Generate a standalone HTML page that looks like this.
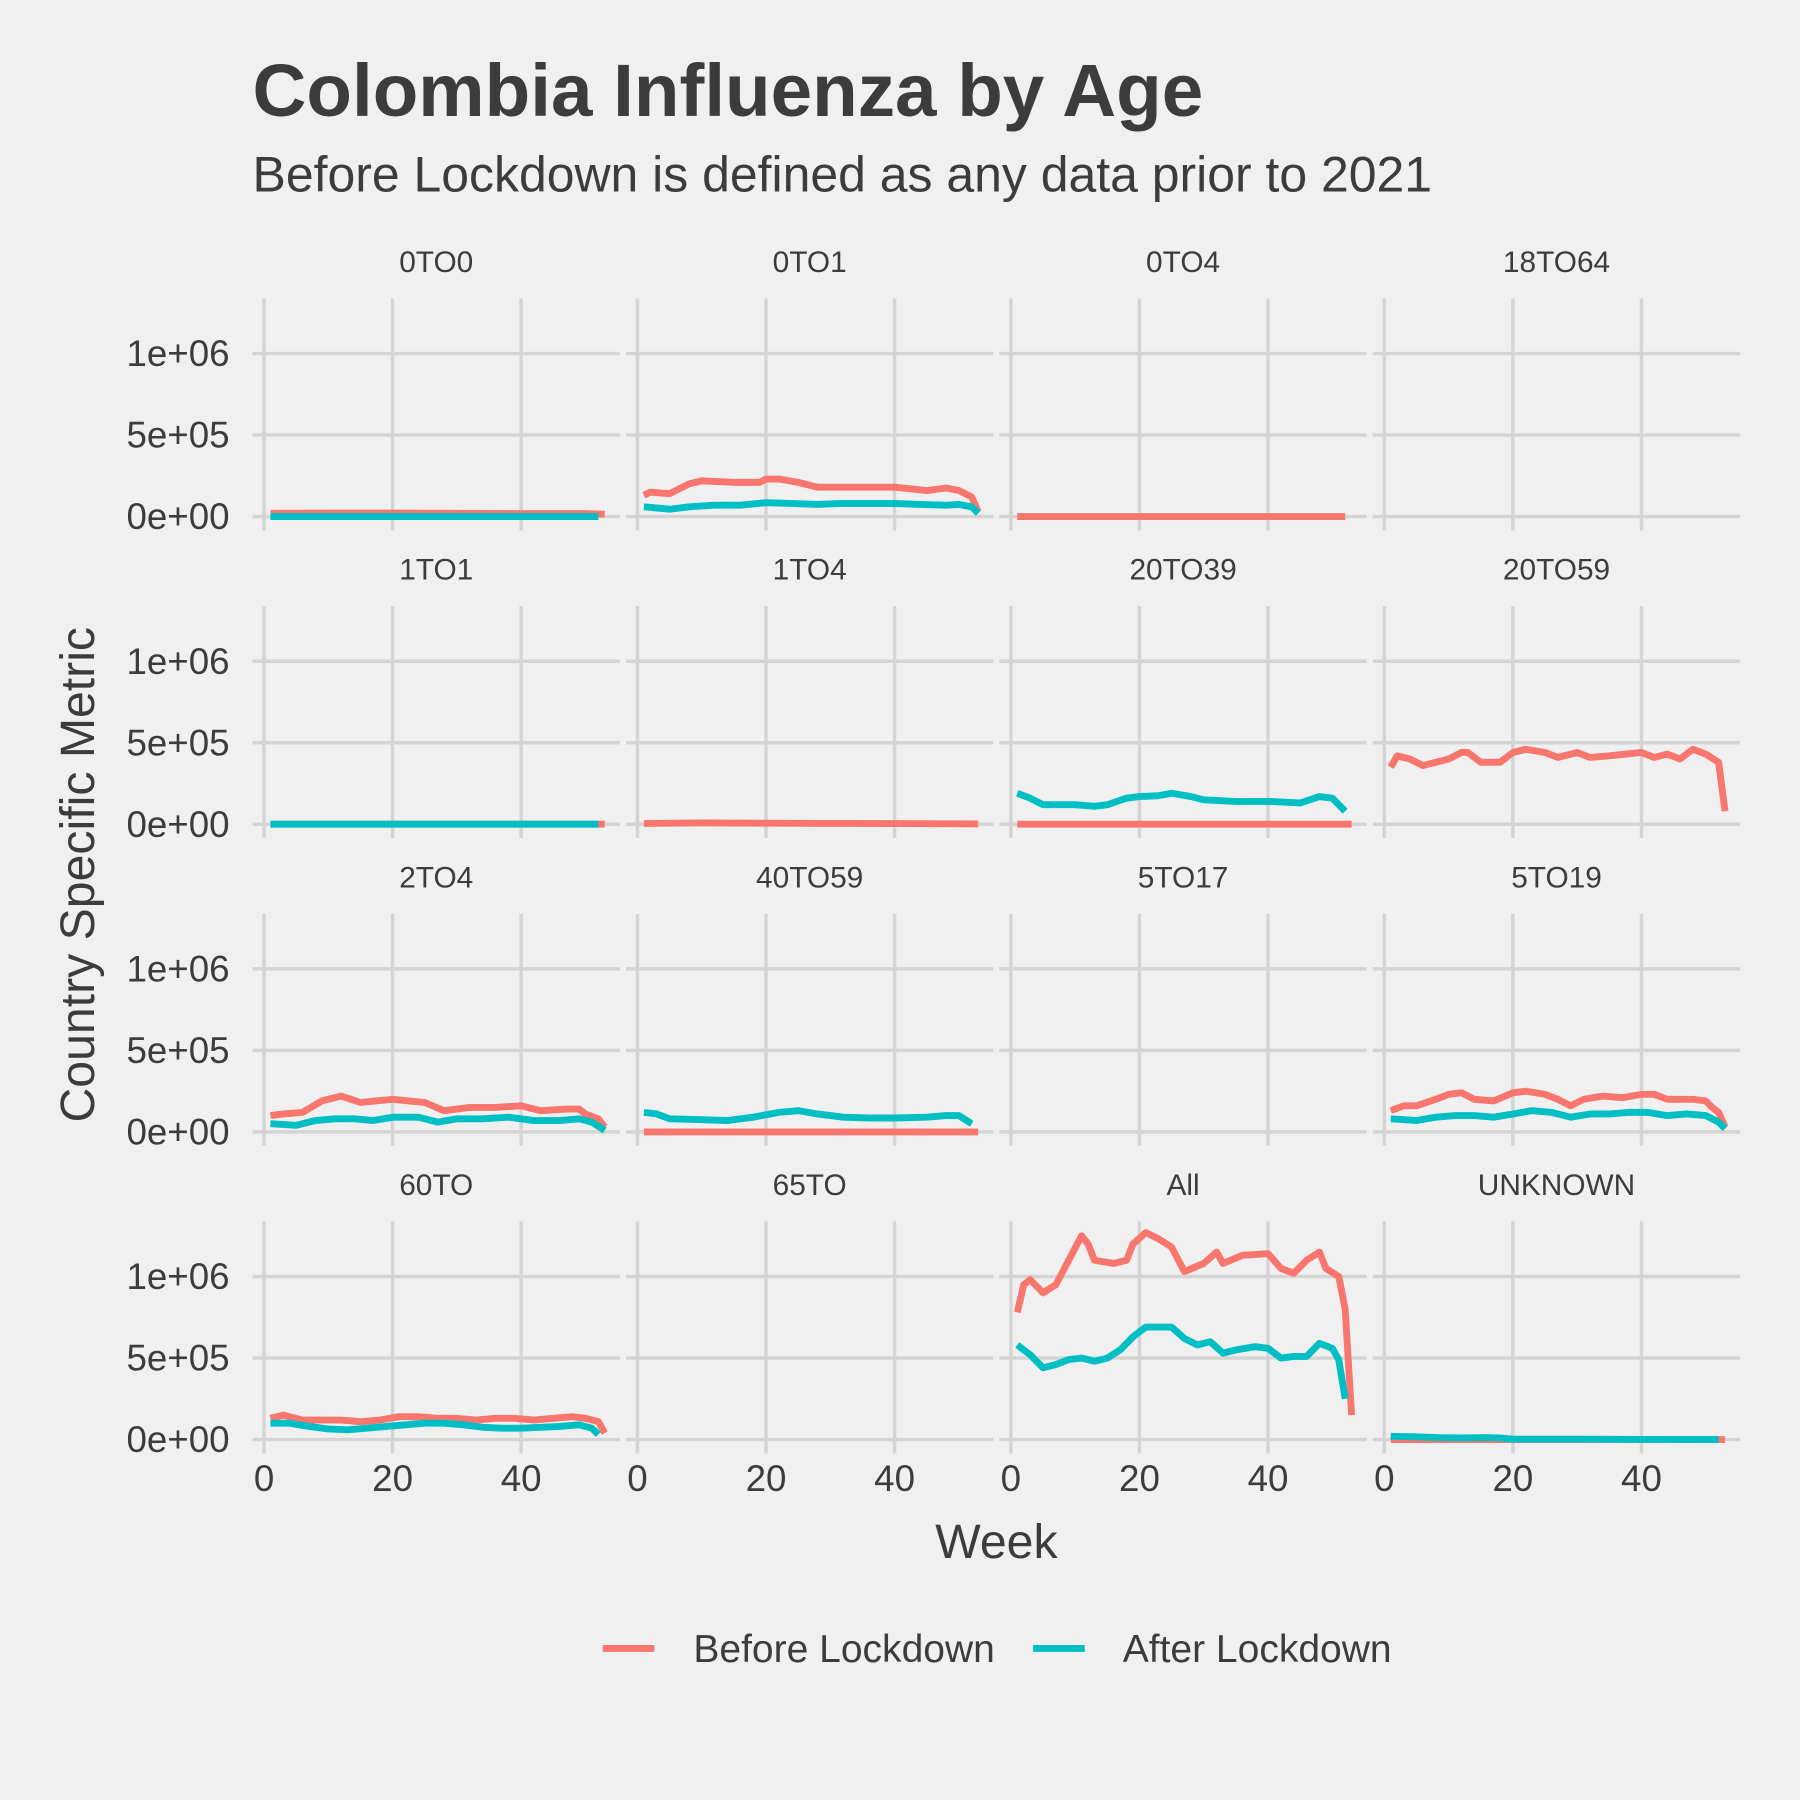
<!DOCTYPE html>
<html><head><meta charset="utf-8"><style>
html,body{margin:0;padding:0;background:#F0F0F0}
svg{display:block}
text{font-family:"Liberation Sans",Arial,sans-serif;fill:#3c3c3c}
</style></head><body>
<svg id="chart" width="1800" height="1800" viewBox="0 0 1568 1568" xmlns="http://www.w3.org/2000/svg">
<rect width="1568" height="1568" fill="#F0F0F0"/>
<text x="220" y="101" font-size="65" font-weight="bold">Colombia Influenza by Age</text>
<text x="220" y="167" font-size="43.5">Before Lockdown is defined as any data prior to 2021</text>
<text transform="translate(82,762) rotate(-90)" font-size="42" text-anchor="middle">Country Specific Metric</text>
<text x="868" y="1357" font-size="42" text-anchor="middle">Week</text>
<g>
<line x1="525" y1="1436" x2="570" y2="1436" stroke="#F8766D" stroke-width="6"/>
<text x="604" y="1448" font-size="34">Before Lockdown</text>
<line x1="900" y1="1436" x2="945" y2="1436" stroke="#00BFC4" stroke-width="6"/>
<text x="978" y="1448" font-size="34">After Lockdown</text>
</g>
<g id="panels"></g>
</svg>
<script>
const panelNames = ["0TO0","0TO1","0TO4","18TO64","1TO1","1TO4","20TO39","20TO59","2TO4","40TO59","5TO17","5TO19","60TO","65TO","All","UNKNOWN"];
const yTicks = [0, 500000, 1000000];
const yTickLabels = ["0e+00","5e+05","1e+06"];
const xTicks = [0, 20, 40];
const xTickLabels = ["0","20","40"];
// values in thousands
const before_0TO0_w = [1,10,20,30,40,50,53];
const before_0TO0_v = [20,22,22,20,18,18,15];
const after_0TO0_w = [1,52];
const after_0TO0_v = [0,0];
const before_0TO1_w = [1,2,5,8,10,15,19,20,22,25,28,30,35,40,45,48,50,52,53];
const before_0TO1_v = [130,150,140,200,220,210,210,230,230,210,180,180,180,180,160,175,160,120,30];
const after_0TO1_w = [1,5,8,12,16,20,24,28,32,36,40,44,48,50,52,53];
const after_0TO1_v = [60,45,60,70,70,85,80,75,80,80,80,75,70,75,60,20];
const before_0TO4_w = [1,52];
const before_0TO4_v = [0,0];
const before_1TO1_w = [1,53];
const before_1TO1_v = [0,0];
const after_1TO1_w = [1,52];
const after_1TO1_v = [0,0];
const before_1TO4_w = [1,10,20,30,40,50,53];
const before_1TO4_v = [5,8,6,5,4,3,2];
const before_20TO39_w = [1,53];
const before_20TO39_v = [0,0];
const after_20TO39_w = [1,3,5,10,13,15,18,20,23,25,28,30,35,40,45,48,50,52];
const after_20TO39_v = [190,160,120,120,110,120,160,170,175,190,170,150,140,140,130,170,160,80];
const before_20TO59_w = [1,2,4,6,10,12,13,15,18,20,22,25,27,30,32,35,40,42,44,46,48,50,52,53];
const before_20TO59_v = [350,420,400,360,400,440,440,380,380,440,460,440,410,440,410,420,440,410,430,400,460,430,380,80];
const before_2TO4_w = [1,3,6,9,12,15,20,25,28,32,36,40,43,47,49,50,52,53];
const before_2TO4_v = [100,110,120,190,220,180,200,180,130,150,150,160,130,140,140,110,80,30];
const after_2TO4_w = [1,5,8,11,14,17,20,24,27,30,34,38,42,46,49,51,53];
const after_2TO4_v = [50,40,70,80,80,70,90,90,60,80,80,90,70,70,80,60,10];
const before_40TO59_w = [1,53];
const before_40TO59_v = [0,0];
const after_40TO59_w = [1,3,5,10,14,18,22,25,28,32,36,40,45,48,50,52];
const after_40TO59_v = [120,110,80,75,70,90,120,130,110,90,85,85,90,100,100,50];
const before_5TO19_w = [1,3,5,8,10,12,14,17,20,22,25,27,29,31,34,37,40,42,44,46,48,50,51,52,53];
const before_5TO19_v = [130,160,160,200,230,240,200,190,240,250,230,200,160,200,220,210,230,230,200,200,200,190,150,120,30];
const after_5TO19_w = [1,5,8,11,14,17,20,23,26,29,32,35,38,41,44,47,50,52,53];
const after_5TO19_v = [80,70,90,100,100,90,110,130,120,90,110,110,120,120,100,110,100,60,20];
const before_60TO_w = [1,3,6,9,12,15,18,21,24,27,30,33,36,39,42,45,48,50,52,53];
const before_60TO_v = [130,150,120,120,120,110,120,140,140,130,130,120,130,130,120,130,140,130,110,40];
const after_60TO_w = [1,4,7,10,13,16,19,22,25,28,31,34,37,40,43,46,49,51,52];
const after_60TO_v = [100,100,80,65,60,70,80,90,100,100,90,75,70,70,75,80,90,70,30];
const before_All_w = [1,2,3,5,7,9,11,12,13,16,18,19,21,23,25,27,30,32,33,36,40,42,44,46,48,49,51,52,53];
const before_All_v = [780,950,980,900,950,1100,1250,1200,1100,1080,1100,1200,1270,1230,1180,1030,1080,1150,1080,1130,1140,1050,1020,1100,1150,1050,1000,800,150];
const after_All_w = [1,3,5,7,9,11,13,15,17,19,21,25,27,29,31,33,35,38,40,42,44,46,48,50,51,52];
const after_All_v = [580,520,440,460,490,500,480,500,550,630,690,690,620,580,600,530,550,570,560,500,510,510,590,560,490,250];
const before_UNKNOWN_w = [1,53];
const before_UNKNOWN_v = [0,0];
const after_UNKNOWN_w = [1,4,8,12,16,18,20,30,40,52];
const after_UNKNOWN_v = [20,18,12,10,12,10,2,2,1,0];

const seriesMap = {
 "0TO0":[[before_0TO0_w,before_0TO0_v],[after_0TO0_w,after_0TO0_v]],
 "0TO1":[[before_0TO1_w,before_0TO1_v],[after_0TO1_w,after_0TO1_v]],
 "0TO4":[[before_0TO4_w,before_0TO4_v],null],
 "18TO64":[null,null],
 "1TO1":[[before_1TO1_w,before_1TO1_v],[after_1TO1_w,after_1TO1_v]],
 "1TO4":[[before_1TO4_w,before_1TO4_v],null],
 "20TO39":[[before_20TO39_w,before_20TO39_v],[after_20TO39_w,after_20TO39_v]],
 "20TO59":[[before_20TO59_w,before_20TO59_v],null],
 "2TO4":[[before_2TO4_w,before_2TO4_v],[after_2TO4_w,after_2TO4_v]],
 "40TO59":[[before_40TO59_w,before_40TO59_v],[after_40TO59_w,after_40TO59_v]],
 "5TO17":[null,null],
 "5TO19":[[before_5TO19_w,before_5TO19_v],[after_5TO19_w,after_5TO19_v]],
 "60TO":[[before_60TO_w,before_60TO_v],[after_60TO_w,after_60TO_v]],
 "65TO":[null,null],
 "All":[[before_All_w,before_All_v],[after_All_w,after_All_v]],
 "UNKNOWN":[[before_UNKNOWN_w,before_UNKNOWN_v],[after_UNKNOWN_w,after_UNKNOWN_v]]
};
const colors = ["#F8766D","#00BFC4"];
const NS = "http://www.w3.org/2000/svg";
const root = document.getElementById("panels");
function mk(tag, attrs){const e=document.createElementNS(NS,tag);for(const k in attrs)e.setAttribute(k,attrs[k]);return e;}
panelNames.forEach((name,i)=>{
  const col=i%4,row=Math.floor(i/4);
  const x0=230+col*325.3, y0=450+row*268;
  const xs=w=>x0+w*5.6;
  const ys=v=>y0-v/1e6*142;
  const g=mk("g",{});
  
  
  root.appendChild(g);
  const st=mk("text",{x:x0+150,y:y0-213,"font-size":26,"text-anchor":"middle",fill:"#444"});
  
  
  st.textContent=name;g.appendChild(st);
  yTicks.forEach((t,j)=>{
    const l=mk("line",{x1:x0-10,x2:x0+310,y1:ys(t),y2:ys(t),stroke:"#D4D4D4","stroke-width":3});
    
    
    g.appendChild(l);
    if(col===0){
      const tl=mk("text",{x:200,y:ys(t)+11,"font-size":32,"text-anchor":"end"});
      
      
      tl.textContent=yTickLabels[j];g.appendChild(tl);
    }
  });
  xTicks.forEach((t,j)=>{
    const l=mk("line",{x1:xs(t),x2:xs(t),y1:y0-190,y2:y0+12,stroke:"#D4D4D4","stroke-width":3});
    
    
    g.appendChild(l);
    if(row===3){
      const tl=mk("text",{x:xs(t),y:y0+45,"font-size":32,"text-anchor":"middle"});
      
      
      tl.textContent=xTickLabels[j];g.appendChild(tl);
    }
  });
  seriesMap[name].forEach((s,k)=>{
    if(!s)return;
    const pts=s[0].map((w,m)=>xs(w).toFixed(1)+","+ys(s[1][m]*1000).toFixed(1)).join(" ");
    const p=mk("polyline",{points:pts,fill:"none",stroke:colors[k],"stroke-width":6,"stroke-linejoin":"round"});
    
    
    g.appendChild(p);
  });
});
</script>
</body></html>
